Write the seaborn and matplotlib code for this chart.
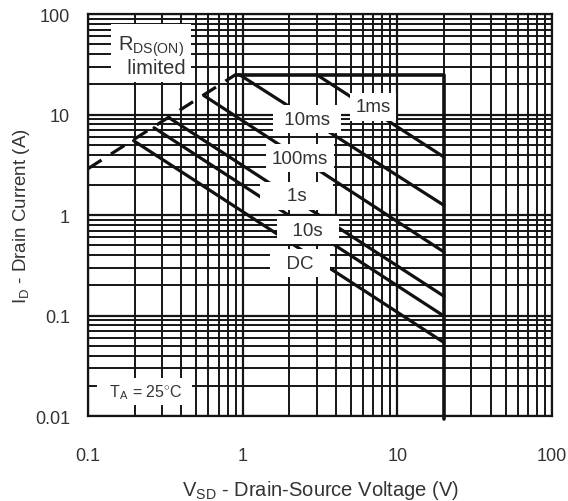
import numpy as np
import pandas as pd
import matplotlib
matplotlib.use('Agg')
import matplotlib.pyplot as plt
import seaborn as sns
from matplotlib.ticker import LogLocator, FixedLocator, FixedFormatter, NullFormatter

# SOA curves
curve_names = ['1ms', '10ms', '100ms', '1s', '10s', 'DC']
start_v = [3.0, 0.95, 0.56, 0.334, 0.267, 0.197]
start_i = [25.0, 25.0, 15.5, 9.3, 7.4, 5.5]
end_v = [20.0, 20.0, 20.0, 20.0, 20.0, 20.0]
end_i = [3.78, 1.25, 0.43, 0.156, 0.099, 0.054]

rds_v = [0.1, 0.9]
rds_i = [2.9, 25.0]
limit_v = [0.9, 20.0, 20.0]
limit_i = [25.0, 25.0, 0.0093]

x_ticks = [0.1, 1, 10, 100]
x_labels = ['0.1', '1', '10', '100']
y_ticks = [0.01, 0.1, 1, 10, 100]
y_labels = ['0.01', '0.1', '1', '10', '100']

sns.set_style('white')
plt.rcParams['font.family'] = ['Liberation Sans', 'DejaVu Sans']
plt.rcParams['mathtext.fontset'] = 'custom'
plt.rcParams['mathtext.rm'] = 'Liberation Sans'
plt.rcParams['mathtext.it'] = 'Liberation Sans:italic'

rows = []
for n, v0, i0, v1, i1 in zip(curve_names, start_v, start_i, end_v, end_i):
    rows.append({'curve': n, 'V': v0, 'I': i0})
    rows.append({'curve': n, 'V': v1, 'I': i1})
df = pd.DataFrame(rows)
df_rds = pd.DataFrame({'V': rds_v, 'I': rds_i})
df_lim = pd.DataFrame({'V': limit_v, 'I': limit_i})

fig = plt.figure(figsize=(5.68, 5.02), dpi=100)
ax = fig.add_axes([0.155, 0.169, 0.817, 0.801])
ax.set_xscale('log')
ax.set_yscale('log')
ax.set_xlim(0.1, 100)
ax.set_ylim(0.01, 100)

gc = '#151515'
ax.xaxis.set_minor_locator(LogLocator(base=10, subs=np.arange(2, 10), numticks=20))
ax.yaxis.set_minor_locator(LogLocator(base=10, subs=np.arange(2, 10), numticks=20))
ax.xaxis.set_minor_formatter(NullFormatter())
ax.yaxis.set_minor_formatter(NullFormatter())
ax.grid(True, which='major', color=gc, lw=1.6)
ax.grid(True, which='minor', color=gc, lw=1.4)
ax.set_axisbelow(True)

sns.lineplot(data=df, x='V', y='I', hue='curve', units='curve', estimator=None, sort=False,
             palette=['#111111'] * len(curve_names), legend=False, lw=2.3, ax=ax)
sns.lineplot(data=df_rds, x='V', y='I', sort=False, estimator=None, color='#111111', lw=2.3,
             linestyle=(0, (5, 3.5)), ax=ax)
lim = sns.lineplot(data=df_lim, x='V', y='I', sort=False, estimator=None, color='#111111', lw=2.6, ax=ax)
lim.lines[-1].set_clip_on(False)

ax.xaxis.set_major_locator(FixedLocator(x_ticks))
ax.xaxis.set_major_formatter(FixedFormatter(x_labels))
ax.yaxis.set_major_locator(FixedLocator(y_ticks))
ax.yaxis.set_major_formatter(FixedFormatter(y_labels))
ax.tick_params(which='both', length=0)
ax.tick_params(axis='x', pad=22, labelsize=13, labelcolor='#333333')
ax.tick_params(axis='y', pad=13, labelsize=13, labelcolor='#333333')
for s in ax.spines.values():
    s.set_color(gc)
    s.set_linewidth(1.6)

ax.set_xlabel('V$_{\\mathrm{SD}}$ - Drain-Source Voltage (V)', fontsize=14.5, color='#333333', labelpad=10)
ax.set_ylabel('I$_{\\mathrm{D}}$ - Drain Current (A)', fontsize=13.5, color='#333333', labelpad=2)

box = dict(facecolor='white', edgecolor='none', boxstyle='square,pad=0.3')
tc = '#333333'
ax.text(0.255, 39, 'R$_{\\mathrm{DS(ON)}}$\n  limited', fontsize=14.5, color=tc, ha='center', va='center',
        linespacing=1.0, zorder=6, bbox=dict(facecolor='white', edgecolor='none', boxstyle='square,pad=0.25'))
for lab, x, y in [(' 10ms ', 2.61, 9.0), ('1ms', 6.95, 11.9), ('100ms', 2.35, 3.69),
                  ('    1s    ', 2.24, 1.55), ('  10s  ', 2.64, 0.71), ('  DC  ', 2.35, 0.333)]:
    ax.text(x, y, lab, fontsize=13.5, color=tc, ha='center', va='center', zorder=6, bbox=box)
ax.text(0.233, 0.0177, '  T$_{\\mathrm{A}}$ = 25$^{\\circ}$C  ', fontsize=11.5, color=tc, ha='center', va='center',
        zorder=6, bbox=dict(facecolor='white', edgecolor='none', boxstyle='square,pad=0.25'))

fig.savefig('out.png', dpi=100)
